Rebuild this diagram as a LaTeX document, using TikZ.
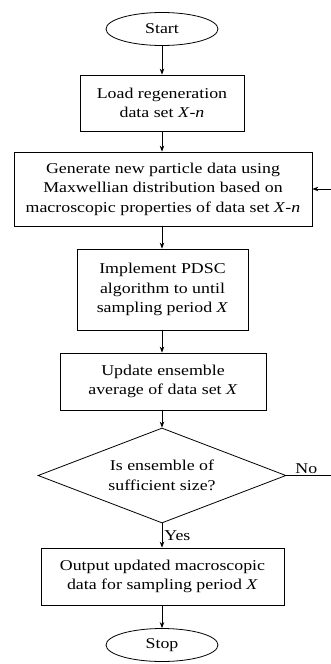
\documentclass[tikz,border=0pt]{standalone}
\usepackage{fontspec}
\setmainfont[FakeStretch=1.19]{Liberation Serif}
\usetikzlibrary{shapes.geometric,arrows.meta}
\begin{document}
\begin{tikzpicture}[x=1pt,y=-1pt,
  every node/.style={font=\fontsize{15}{19.5}\selectfont, align=center, inner sep=0pt},
  procbox/.style={draw, line width=0.8pt, rectangle},
  term/.style={draw, line width=0.8pt, ellipse, minimum width=112pt, minimum height=33pt},
  decide/.style={draw, line width=0.8pt, diamond, shape aspect=2.6, minimum width=248pt, minimum height=95pt},
  flow/.style={line width=0.8pt, -{Stealth[length=6pt,width=4.5pt]}},
  lab/.style={font=\fontsize{15}{19.5}\selectfont}]
\useasboundingbox (0,0) rectangle (331,664);
\clip (0,0) rectangle (331,664);
\node[term] (start) at (162,29) {Start};
\node[procbox, minimum width=164pt, minimum height=56pt] (load) at (162,103) {Load regeneration\\data set \textit{X}-\textit{n}};
\node[procbox, minimum width=298pt, minimum height=74pt] (gen) at (163,189) {Generate new particle data using\\Maxwellian distribution based on\\macroscopic properties of data set \textit{X}-\textit{n}};
\node[procbox, minimum width=171pt, minimum height=81pt] (impl) at (162.5,289.5) {Implement PDSC\\algorithm to until\\sampling period \textit{X}};
\node[procbox, minimum width=206pt, minimum height=57pt] (upd) at (163,381.5) {Update ensemble\\average of data set \textit{X}};
\node[decide] (dec) at (162,475.5) {Is ensemble of\\sufficient size?};
\node[procbox, minimum width=243pt, minimum height=57pt] (out) at (162.5,576.5) {Output updated macroscopic\\data for sampling period \textit{X}};
\node[term] (stop) at (162,645) {Stop};
\coordinate (c1) at (334,475.5);
\coordinate (c2) at (334,189);
\draw[flow] (start.south) -- (load.north -| start.south);
\draw[flow] (load.south -| start.south) -- (gen.north -| start.south);
\draw[flow] (gen.south -| start.south) -- (impl.north -| start.south);
\draw[flow] (impl.south -| start.south) -- (upd.north -| start.south);
\draw[flow] (upd.south -| start.south) -- (dec.north);
\draw[flow] (dec.south) -- node[lab, right=2pt, pos=0.5] {Yes} (out.north -| dec.south);
\draw[flow] (out.south -| start.south) -- (stop.north);
\draw[flow] (dec.east) -- node[lab, above=1pt, pos=0.42] {No} (c1) -- (c2) -- (gen.east);
\end{tikzpicture}
\end{document}
